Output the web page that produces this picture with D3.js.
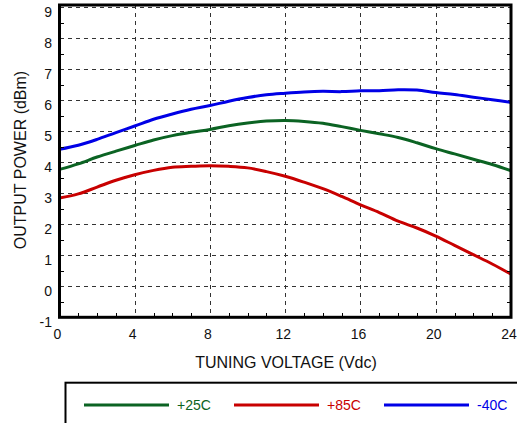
<!DOCTYPE html>
<html>
<head>
<meta charset="utf-8">
<script src="https://cdn.jsdelivr.net/npm/d3@7"></script>
<style>
  html, body { margin: 0; padding: 0; background: #fff; }
  svg { display: block; font-family: "Liberation Sans", Arial, sans-serif; }
</style>
</head>
<body>
<svg id="chart" width="517" height="423"></svg>
<script>
// ---- data ----
const voltages = [0,1,2,3,4,5,6,7,8,9,10,11,12,13,14,15,16,17,18,19,20,21,22,23,24];
const p25 = [3.77,3.95,4.17,4.36,4.54,4.72,4.86,4.97,5.06,5.18,5.27,5.33,5.35,5.32,5.26,5.15,5.03,4.92,4.80,4.63,4.44,4.27,4.10,3.93,3.73];
const p85 = [2.85,2.98,3.20,3.42,3.60,3.74,3.84,3.87,3.89,3.87,3.82,3.70,3.55,3.36,3.15,2.90,2.63,2.38,2.10,1.88,1.62,1.32,1.02,0.72,0.39];
const m40 = [4.42,4.55,4.74,4.96,5.17,5.39,5.56,5.71,5.83,5.97,6.09,6.18,6.23,6.27,6.29,6.28,6.31,6.31,6.34,6.33,6.25,6.19,6.10,6.02,5.93];
const xTicks = [0,4,8,12,16,20,24];
const yTicks = [-1,0,1,2,3,4,5,6,7,8,9];
const seriesNames = ["+25C","+85C","-40C"];
const seriesColors = ["#0b6323","#c80000","#0000e6"];
const xTitle = "TUNING VOLTAGE (Vdc)";
const yTitle = "OUTPUT POWER (dBm)";

const series = [p25, p85, m40].map((vals, i) => ({
  name: seriesNames[i], color: seriesColors[i],
  pts: voltages.map((v, j) => [v, vals[j]])
}));

const svg = d3.select("#chart");
const L = 59.5, R = 511, T = 5, B = 317.3;
const x = d3.scaleLinear().domain([0, 24]).range([L, R]);
const y = d3.scaleLinear().domain([-1, 9]).range([B, 7.3]);

// grid
const grid = svg.append("g").attr("stroke", "#333").attr("stroke-width", 1)
  .attr("stroke-dasharray", "4,4").attr("shape-rendering", "crispEdges");
grid.selectAll("line.gx").data(xTicks.filter(d => d > 0 && d < 24)).join("line")
  .attr("x1", d => Math.round(x(d)) + 0.5).attr("x2", d => Math.round(x(d)) + 0.5)
  .attr("y1", T).attr("y2", B);
grid.selectAll("line.gy").data(yTicks.filter(d => d > -1)).join("line")
  .attr("y1", d => Math.round(y(d)) + 0.5).attr("y2", d => Math.round(y(d)) + 0.5)
  .attr("x1", L).attr("x2", R);

// clip
svg.append("clipPath").attr("id", "clip").append("rect")
  .attr("x", L).attr("y", T).attr("width", R - L).attr("height", B - T);

const line = d3.line().x(d => x(d[0])).y(d => y(d[1])).curve(d3.curveCatmullRom);
svg.append("g").attr("clip-path", "url(#clip)")
  .selectAll("path").data(series).join("path")
  .attr("d", d => line(d.pts)).attr("fill", "none")
  .attr("stroke", d => d.color).attr("stroke-width", 3)
  .attr("stroke-linejoin", "round").attr("stroke-linecap", "butt");

// minor ticks
const minorY = d3.range(-0.5, 9, 1);
const minorX = d3.range(1, 24, 1).filter(d => d % 4 !== 0);
const mt = svg.append("g").attr("stroke", "#000").attr("stroke-width", 1).attr("shape-rendering", "crispEdges");
mt.selectAll("line.ly").data(minorY).join("line")
  .attr("x1", L).attr("x2", L + 4).attr("y1", d => Math.round(y(d)) + 0.5).attr("y2", d => Math.round(y(d)) + 0.5);
mt.selectAll("line.ry").data(minorY).join("line")
  .attr("x1", R).attr("x2", R - 4).attr("y1", d => Math.round(y(d)) + 0.5).attr("y2", d => Math.round(y(d)) + 0.5);
mt.selectAll("line.bx").data(minorX).join("line")
  .attr("y1", B).attr("y2", B - 4).attr("x1", d => Math.round(x(d)) + 0.5).attr("x2", d => Math.round(x(d)) + 0.5);

// frame
svg.append("rect").attr("x", L).attr("y", T).attr("width", R - L).attr("height", B - T)
  .attr("fill", "none").attr("stroke", "#000").attr("stroke-width", 3);

// axes labels
svg.append("g").selectAll("text").data(yTicks).join("text")
  .attr("x", 52).attr("y", d => y(d) + 10).attr("text-anchor", "end")
  .attr("font-size", 14).attr("fill", "#111").text(d => d);
svg.append("g").selectAll("text").data(xTicks).join("text")
  .attr("x", d => x(d) - 2).attr("y", 339).attr("text-anchor", "middle")
  .attr("font-size", 14).attr("fill", "#111").text(d => d);

svg.append("text").attr("x", 286).attr("y", 368).attr("text-anchor", "middle")
  .attr("font-size", 16).attr("fill", "#111").text(xTitle);
svg.append("text").attr("transform", "translate(26,160) rotate(-90)")
  .attr("text-anchor", "middle").attr("font-size", 16).attr("fill", "#111").text(yTitle);

// legend
svg.append("rect").attr("x", 65.5).attr("y", 382.7).attr("width", 470).attr("height", 60)
  .attr("fill", "none").attr("stroke", "#000").attr("stroke-width", 2);
const lg = svg.append("g").selectAll("g").data(series).join("g")
  .attr("transform", (d, i) => `translate(${84 + i * 150},405)`);
lg.append("line").attr("x1", 0).attr("x2", 85).attr("y1", 0).attr("y2", 0)
  .attr("stroke", d => d.color).attr("stroke-width", 3);
lg.append("text").attr("x", 93).attr("y", 5).attr("font-size", 14)
  .attr("fill", d => d.color).text(d => d.name);
</script>
</body>
</html>
